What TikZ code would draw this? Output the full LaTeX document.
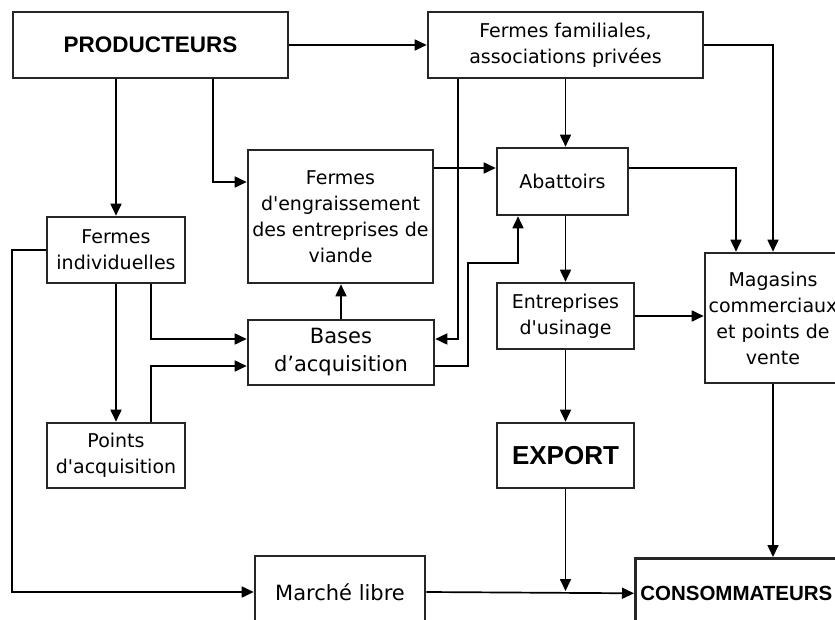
\documentclass[tikz,border=0pt]{standalone}
\usepackage{fontspec}
\setmainfont{DejaVu Sans}
\newfontfamily\titlef{Liberation Sans}
\usetikzlibrary{arrows.meta}
\tikzset{
  box/.style={draw=black!85, line width=2.6pt, fill=white, align=center, inner sep=1pt,
              font=\fontsize{19}{26}\selectfont},
  bigbox/.style={box, font=\fontsize{21}{28}\selectfont},
  title/.style={box, font=\titlef\bfseries\fontsize{22.5}{26}\selectfont},
  arr/.style={draw=black, line width=1.7pt, -{Triangle[length=12pt,width=11pt]}},
  ln/.style={draw=black, line width=1.7pt}
}
\begin{document}
\begin{tikzpicture}[x=1pt,y=-1pt]
\useasboundingbox (0,0) rectangle (835,620);
\clip (0,0) rectangle (835,620);
\fill[white] (0,0) rectangle (835,620);

\node[title, minimum width=275, minimum height=66] (prod) at (150.5,45) {PRODUCTEURS};
\node[box, minimum width=275, minimum height=66] (ff) at (565.5,45) {Fermes familiales,\\associations privées};
\node[box, minimum width=185, minimum height=133] (fe) at (340.5,216.5) {Fermes\\d\textquotesingle engraissement\\des entreprises de\\viande};
\node[box, minimum width=131, minimum height=67] (ab) at (562.5,181.5) {Abattoirs};
\node[box, minimum width=138, minimum height=66] (fi) at (116,250) {Fermes\\individuelles};
\node[bigbox, minimum width=186, minimum height=65] (ba) at (341,352.5) {Bases\\d’acquisition};
\node[box, minimum width=137, minimum height=66] (ent) at (565.5,316) {Entreprises\\d\textquotesingle usinage};
\node[box, minimum width=136, minimum height=130] (mag) at (773,318) {Magasins\\commerciaux\\et points de\\vente};
\node[box, minimum width=138, minimum height=65] (pa) at (116,455.5) {Points\\d\textquotesingle acquisition};
\node[title, minimum width=137, minimum height=65, font=\titlef\bfseries\fontsize{26}{30}\selectfont] (exp) at (565.5,455.5) {EXPORT};
\node[bigbox, minimum width=170, minimum height=72] (ml) at (340,592) {Marché libre};
\node[title, anchor=north west, minimum width=250, minimum height=70, text width=240, align=left, inner xsep=2pt, font=\titlef\bfseries\fontsize{20.5}{26}\selectfont] (cons) at (634,557) {CONSOMMATEURS};

% connectors
\draw[arr] (prod.east) -- (ff.west);
\draw[arr] (fi.north |- prod.south) -- (fi.north);
\draw[arr] ([xshift=62.5pt]prod.south) |- ([yshift=34.5pt]fe.west);
\draw[arr] (ff.south) -- (ff.south |- ab.north);
\draw[arr] ([xshift=-107.5pt]ff.south) |- ([yshift=13.5pt]ba.east);
\coordinate (k) at ([xshift=-44.5pt,yshift=-47pt]ab.south);
\draw[arr] ([yshift=-13.5pt]ba.east) -- ++(33,0) |- (k) -- (k |- ab.south);
\coordinate (fe1) at ([yshift=48.5pt]fe.east);
\draw[arr] (fe1) -- (fe1 -| ab.west);
\draw[arr] ([yshift=13.5pt]ab.east) -| ([xshift=-37pt]mag.north);
\draw[arr] (ff.east) -| (mag.north);
\draw[arr] (ab.south -| ent.north) -- (ent.north);
\draw[arr] (ent.east) -- (ent.east -| mag.west);
\draw[arr] (ent.south) -- (exp.north);
\draw[arr] (exp.south) -- ([yshift=1pt]exp.south |- ml.east);
\draw[arr] (ml.east) -- (cons.west);
\draw[arr] (mag.south) -- (mag.south |- cons.north);
\draw[arr] (fi.west) -- ++(-34,0) |- (ml.west);
\draw[arr] (fi.south) -- (pa.north);
\draw[arr] ([xshift=35pt]fi.south) |- ([yshift=13.5pt]ba.west);
\draw[arr] ([xshift=35pt]pa.north) |- ([yshift=-13.5pt]ba.west);
\draw[arr] (ba.north) -- (ba.north |- fe.south);
\end{tikzpicture}
\end{document}
